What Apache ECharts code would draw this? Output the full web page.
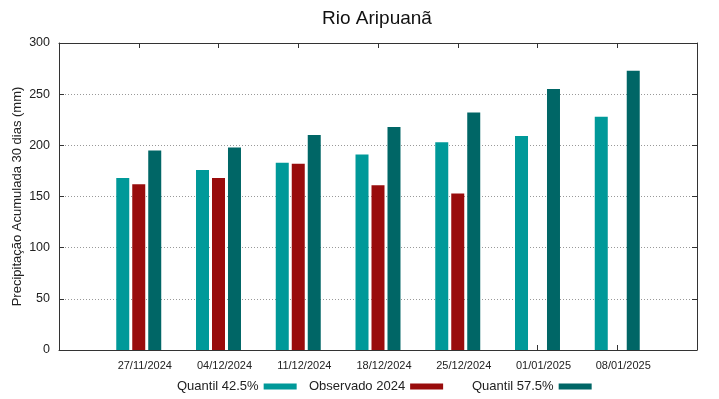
<!DOCTYPE html>
<html>
<head>
<meta charset="utf-8">
<title>Rio Aripuanã</title>
<script src="https://cdn.jsdelivr.net/npm/echarts@6/dist/echarts.min.js"></script>
<style>
    html, body { margin: 0; padding: 0; background: #fff; }
    #chart { width: 719px; height: 399px; }
</style>
</head>
<body>
<div id="chart"></div>
<script>
// dados
const datas = ['27/11/2024', '04/12/2024', '11/12/2024', '18/12/2024', '25/12/2024', '01/01/2025', '08/01/2025'];
const quantil425 = [168, 176, 183, 191, 203, 209, 228];
const observado2024 = [162, 168, 182, 161, 153, null, null];
const quantil575 = [195, 198, 210, 218, 232, 255, 273];
const yTicks = [0, 50, 100, 150, 200, 250, 300];

const cores = { q425: '#009999', obs: '#990c0c', q575: '#006666' };
const fonte = '"Liberation Sans", Arial, sans-serif';

// eixo com uma posição vazia em cada ponta (como o gnuplot)
const categorias = [''].concat(datas, ['']);
const pad = arr => ['-'].concat(arr.map(v => v == null ? '-' : v), ['-']);

const chart = echarts.init(document.getElementById('chart'));

const legenda = (nome, left) => ({
    data: [nome],
    left: left, top: 380,
    align: 'right',
    icon: 'rect',
    itemWidth: 33, itemHeight: 6,
    padding: 0,
    textStyle: { fontFamily: fonte, fontSize: 13, color: '#222' }
});

const linha = { show: true, onZero: false, lineStyle: { color: '#333', width: 1 } };
const tick = { show: true, inside: true, length: 5, lineStyle: { color: '#333' } };

const option = {
    animation: false,
    title: {
        text: 'Rio Aripuanã',
        left: 372, top: 4, textAlign: 'center',
        textStyle: { fontFamily: fonte, fontSize: 19, fontWeight: 'normal', color: '#111' }
    },
    legend: [
        legenda('Quantil 42.5%', 177),
        legenda('Observado 2024', 309),
        legenda('Quantil 57.5%', 472)
    ],
    grid: { left: 59, right: 22, top: 43, bottom: 49, outerBoundsMode: 'none' },
    xAxis: [{
        type: 'category',
        data: categorias,
        boundaryGap: false,
        axisLine: linha,
        axisTick: { ...tick, interval: 0 },
        axisLabel: { interval: 0, fontFamily: fonte, fontSize: 11, color: '#222', margin: 10, padding: [0, 0, 0, 12] }
    }, {
        type: 'category',
        position: 'top',
        data: categorias,
        boundaryGap: false,
        axisLine: linha,
        axisTick: { ...tick, interval: 0 },
        axisLabel: { show: false }
    }],
    yAxis: [{
        type: 'value',
        min: 0, max: 300, interval: 50,
        name: 'Precipitação Acumulada 30 dias (mm)',
        nameLocation: 'middle',
        nameGap: 35,
        nameMoveOverlap: false,
        nameTextStyle: { fontFamily: fonte, fontSize: 13, color: '#222' },
        axisLine: linha,
        axisTick: tick,
        axisLabel: {
            fontFamily: fonte, fontSize: 12.5, color: '#222', margin: 9,
            formatter: v => yTicks.includes(v) ? String(v) : ''
        },
        splitLine: { show: true, lineStyle: { color: '#999', type: [1, 2], width: 1 } }
    }, {
        type: 'value',
        position: 'right',
        min: 0, max: 300, interval: 50,
        axisLine: linha,
        axisTick: tick,
        axisLabel: { show: false },
        splitLine: { show: false }
    }],
    series: [
        { name: 'Quantil 42.5%', type: 'bar', data: pad(quantil425), barWidth: 13, barGap: '23%', itemStyle: { color: cores.q425 } },
        { name: 'Observado 2024', type: 'bar', data: pad(observado2024), barWidth: 13, barGap: '23%', itemStyle: { color: cores.obs } },
        { name: 'Quantil 57.5%', type: 'bar', data: pad(quantil575), barWidth: 13, barGap: '23%', itemStyle: { color: cores.q575 } }
    ]
};

chart.setOption(option);
</script>
</body>
</html>
